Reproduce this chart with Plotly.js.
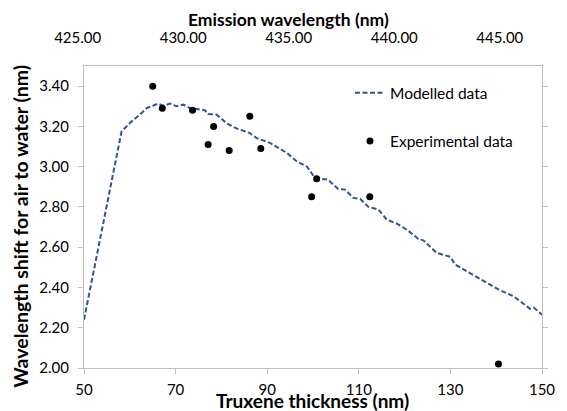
<!DOCTYPE html>
<html>
<head>
<meta charset="utf-8">
<script src="https://cdn.plot.ly/plotly-3.0.1.min.js"></script>
<style>html,body{margin:0;padding:0;background:#fff;}#chart{width:567px;height:411px;}</style>
</head>
<body>
<div id="chart"></div>
<script>
// Modelled data (thickness nm, shift nm)
const modelThickness = [50, 58.2, 60.4, 62.2, 63.7, 65.5, 66.2, 67.3, 68.8, 70.2, 71.7, 73.1, 74.9, 76.4, 77.1, 79.0, 81.1, 83.3, 86.2, 87.7, 90.6, 94.3, 96.5, 98.7, 100.4, 103.3, 105.5, 107.0, 108.8, 110.3, 112.1, 114.3, 116.1, 118.3, 120.5, 123.0, 124.1, 127.0, 130.0, 131.0, 133.6, 138.0, 140.5, 143.8, 147.4, 148.2, 150];
const modelShift = [2.24, 3.175, 3.225, 3.258, 3.291, 3.308, 3.313, 3.303, 3.313, 3.30, 3.308, 3.291, 3.283, 3.28, 3.262, 3.258, 3.216, 3.19, 3.167, 3.142, 3.118, 3.068, 3.026, 3.0, 2.944, 2.935, 2.889, 2.886, 2.845, 2.84, 2.80, 2.787, 2.737, 2.717, 2.687, 2.641, 2.634, 2.572, 2.552, 2.514, 2.48, 2.423, 2.39, 2.356, 2.294, 2.30, 2.265];
// Experimental data
const expThickness = [65.0, 67.1, 73.7, 77.1, 78.3, 81.7, 86.2, 88.6, 99.7, 100.8, 112.4, 140.5];
const expShift = [3.40, 3.29, 3.28, 3.11, 3.20, 3.08, 3.25, 3.09, 2.85, 2.94, 2.85, 2.02];
// Axis ticks
const xTicks = [50, 70, 90, 110, 130, 150];
const yTicks = [2.0, 2.2, 2.4, 2.6, 2.8, 3.0, 3.2, 3.4];
const topTicks = [425, 430, 435, 440, 445];

const FONT = 'Lato, "Open Sans", sans-serif';
const AXC = '#BFBFBF';
const TITLE_FONT = (s) => ({family: FONT, size: s, color: '#000', weight: 'bold'});

const traces = [
  {x: modelThickness, y: modelShift, type: 'scatter', mode: 'lines', name: 'Modelled data',
   line: {color: '#2F5597', width: 2, dash: '5px,2.5px'}, legendgroup: 'a'},
  {x: expThickness, y: expShift, type: 'scatter', mode: 'markers', name: 'Experimental data',
   marker: {color: '#000', size: 7}, legendgroup: 'b'},
  {x: [], y: [], xaxis: 'x2', yaxis: 'y', type: 'scatter', mode: 'markers', showlegend: false, hoverinfo: 'skip'}
];

const layout = {
  width: 567, height: 411,
  margin: {l: 40, r: 25, t: 66.3, b: 42.5},
  paper_bgcolor: '#fff', plot_bgcolor: 'rgba(0,0,0,0)',
  font: {family: FONT, size: 15, color: '#000'},
  showlegend: true,
  legend: {x: 0.6175, y: 0.966, xanchor: 'left', yanchor: 'top', bgcolor: 'rgba(0,0,0,0)',
           font: {family: FONT, size: 15.5, color: '#000'}, traceorder: 'grouped', tracegroupgap: 25, itemwidth: 30},
  xaxis: {domain: [0.08765, 1], range: [50, 150], tickvals: xTicks, ticks: 'outside', ticklen: 5,
          tickcolor: AXC, showline: true, linecolor: AXC, linewidth: 1, mirror: true, showgrid: false, zeroline: false,
          tickfont: {family: FONT, size: 15, color: '#000'}, ticklabelstandoff: 3},
  xaxis2: {domain: [0, 1], range: [423.215, 447], anchor: 'y', side: 'top', tickvals: topTicks, tickformat: '.2f',
           ticks: 'outside', ticklen: 16.5, tickcolor: 'rgba(0,0,0,0)', showline: false, showgrid: false, zeroline: false,
           tickfont: {family: FONT, size: 15, color: '#000'}},
  yaxis: {anchor: 'x', range: [2.0, 3.5], tickvals: yTicks, tickformat: '.2f', ticks: 'outside', ticklen: 5,
          tickcolor: AXC, showline: true, linecolor: AXC, linewidth: 1, mirror: 'ticks', showgrid: false, zeroline: false,
          tickfont: {family: FONT, size: 15, color: '#000'}, ticklabelstandoff: 6},
  annotations: [
    {text: 'Emission wavelength (nm)', xref: 'paper', yref: 'paper', x: 0.496, y: 1.153,
     xanchor: 'center', yanchor: 'middle', showarrow: false, font: TITLE_FONT(17.5)},
    {text: 'Truxene thickness (nm)', xref: 'paper', yref: 'paper', x: 0.5438, y: -0.1092,
     xanchor: 'center', yanchor: 'middle', showarrow: false, font: TITLE_FONT(19)},
    {text: 'Wavelength shift for air to water (nm)', xref: 'paper', yref: 'paper', x: -0.0378, y: 0.468,
     xanchor: 'center', yanchor: 'middle', textangle: -90, showarrow: false, font: TITLE_FONT(19.5)}
  ]
};

Plotly.newPlot('chart', traces, layout, {displayModeBar: false, staticPlot: true});
</script>
</body>
</html>
